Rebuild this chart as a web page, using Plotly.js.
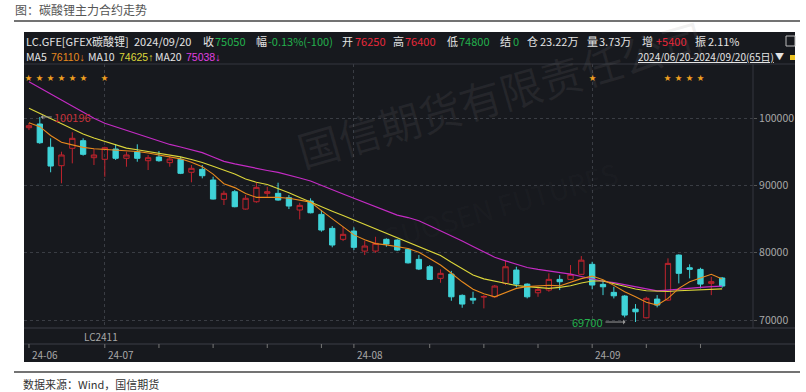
<!DOCTYPE html>
<html>
<head>
<meta charset="utf-8">
<script src="https://cdn.plot.ly/plotly-3.0.1.min.js"></script>
<style>html,body{margin:0;padding:0;background:#fff;}#chart{width:806px;height:392px;}</style>
</head>
<body>
<div id="chart"></div>
<script>
// ---- data ----
const openP  = [98600,99150,95690,92950,95540,96670,94140,93900,95430,94050,95030,93690,94240,93400,93900,91970,92410,90820,87950,89080,86500,87590,88840,88840,88190,86360,87700,85710,83630,82000,83230,80250,80250,82000,81890,80510,79020,77920,76200,76830,73660,73220,73400,73450,75450,77430,75340,74050,74450,76040,76040,76790,78280,75300,74110,73560,71620,70330,73110,72960,79660,77770,77530,75450,76250];
const highP  = [99300,100196,97020,95030,97920,97020,95430,95770,96180,95030,96130,94540,95130,94350,94290,93050,93050,91310,89230,89330,88590,90420,89820,90420,88590,87440,88100,86360,83970,83870,83780,81790,82380,82150,82000,80650,79660,78170,77530,77300,73810,74200,73700,75200,78900,77920,75450,74940,76940,76680,78170,79510,78660,75940,74940,73700,72370,73450,73700,79170,79760,78280,77770,76430,76400];
const lowP   = [98250,96200,91970,90330,93300,94440,93050,91310,93800,92800,93540,92310,93540,92800,91700,90480,91070,87920,87100,86760,86430,87440,88330,87740,86500,84970,85860,83130,80810,81740,80400,79660,80000,80900,80250,78400,77430,75940,75540,72860,71820,72370,71730,73360,75200,74850,73210,73450,74200,74450,75940,76680,74560,73700,73210,70390,69700,70240,71880,72820,75450,76190,74700,73700,74800];
const closeP = [98900,96370,92900,94540,97020,94640,94540,95630,94050,94540,94050,94140,93690,93950,91820,92560,91460,87990,88840,86850,88100,89730,89080,87840,86950,87050,85950,83380,81150,82740,80810,81000,81400,81300,80400,78500,77580,76040,76940,73450,72370,72960,73500,75050,77920,75340,73450,74550,76040,75690,76790,78900,75200,74940,73600,70730,71220,73220,72220,78420,76940,77530,75340,75700,75050];
const ma5  = [99350,98760,97450,96450,96050,95680,95460,95360,95290,95180,95060,94830,94560,94310,93970,93460,92810,91690,90280,89690,88830,88240,88240,88240,88100,87840,87530,86260,85080,83870,82660,81930,81360,81170,80880,80630,80090,79100,78190,76960,75680,74570,73890,73450,74050,74700,74970,75120,75170,75070,75600,76150,76530,76000,75150,74200,73450,72650,72220,73220,74700,75690,76250,76800,76110];
const ma10 = [101490,100720,99940,99120,98310,97660,97060,96550,96060,95560,95310,95070,94840,94610,94260,93860,93420,92860,92300,91710,90980,90480,90160,89600,88940,88230,87520,86840,86190,85540,84880,84230,83570,82890,82200,81530,80860,80230,79580,78580,77580,76700,76120,75770,75370,75120,74970,74800,74700,74850,75100,75500,75800,75800,75400,75000,74600,74350,74250,74250,74350,74400,74450,74500,74625];
const ma20 = [105450,104550,103630,102730,101820,100910,100000,99260,98730,98190,97650,97120,96580,96110,95730,95340,94890,94250,93600,93210,92850,92530,92240,91950,91570,91120,90670,90060,89410,88750,88100,87450,86800,86140,85600,85240,84770,84010,83280,82550,81740,80940,80140,79340,78800,78300,77810,77520,77300,77090,76830,76470,76100,75760,75550,75230,74880,74600,74320,74440,74600,74740,74860,74970,75038];
const monthTickIdx  = [0, 7, 30, 52];
const monthTickText = ['24-06', '24-07', '24-08', '24-09'];
const minorTickIdx  = [12, 17, 22, 27, 37, 42, 47, 57, 62];
const yTicks = [70000, 80000, 90000, 100000];
const starIdx = [0, 1, 2, 3, 4, 5, 7, 52, 59, 60, 61, 62];

// ---- geometry helpers ----
const W = 806, H = 392;
const PL = 24, PR = 753, PT = 64, PB = 328;
const px = x => (x - PL) / (PR - PL);
const py = y => (PB - y) / (PB - PT);
const FONT = '"Noto Sans CJK SC", "Noto Sans", sans-serif';
const NUMFONT = '"Liberation Sans", "Noto Sans CJK SC", sans-serif';
const WHITE = '#e4e4e4', GREEN = '#23b14d', RED = '#e8283a';
const C_UP = '#c0232d', C_DN = '#3fd3d8';
const C_MA5 = '#e88a1e', C_MA10 = '#dcd63a', C_MA20 = '#c42bc4';
const xIdx = closeP.map((_, i) => i);

const traces = [
  {type: 'candlestick', x: xIdx, open: openP, high: highP, low: lowP, close: closeP,
   increasing: {line: {color: C_UP, width: 1}, fillcolor: 'rgba(0,0,0,0)'},
   decreasing: {line: {color: C_DN, width: 1}, fillcolor: C_DN},
   whiskerwidth: 0, hoverinfo: 'skip', showlegend: false},
  {type: 'scatter', mode: 'lines', x: xIdx, y: ma20, line: {color: C_MA20, width: 1.2}, hoverinfo: 'skip', showlegend: false},
  {type: 'scatter', mode: 'lines', x: xIdx, y: ma10, line: {color: C_MA10, width: 1.1}, hoverinfo: 'skip', showlegend: false},
  {type: 'scatter', mode: 'lines', x: xIdx, y: ma5, line: {color: C_MA5, width: 1.1}, hoverinfo: 'skip', showlegend: false}
];

const ann = [];
function txt(x, y, text, color, size, family) {
  ann.push({xref: 'paper', yref: 'paper', x: px(x), y: py(y), text: text,
    showarrow: false, xanchor: 'left', yanchor: 'middle', borderpad: 0,
    font: {family: family || FONT, size: size || 11, color: color || WHITE}});
}
// watermark (drawn first, underneath the other texts)
ann.push({xref: 'paper', yref: 'paper', x: px(500), y: py(92), xanchor: 'center', yanchor: 'middle',
  text: '国信期货有限责任公司', showarrow: false, textangle: -16,
  font: {family: FONT, size: 42, color: 'rgba(135,135,135,0.12)'}});
ann.push({xref: 'paper', yref: 'paper', x: px(500), y: py(205), xanchor: 'center', yanchor: 'middle',
  text: 'GUOSEN FUTURES', showarrow: false, textangle: -16,
  font: {family: FONT, size: 28, color: 'rgba(150,150,150,0.05)'}});
// title & footer
txt(14, 10, '图：碳酸锂主力合约走势', '#555', 12);
txt(22, 384, '数据来源：Wind，国信期货', '#333', 11);
// header row 1
const row1 = [
  [25, 'LC.GFE[GFEX碳酸锂]', WHITE], [133, '2024/09/20', WHITE],
  [202, '收', WHITE], [214, '75050', GREEN],
  [255, '幅', WHITE], [267, '-0.13%(-100)', GREEN],
  [341, '开', WHITE], [354, '76250', RED],
  [392, '高', WHITE], [404, '76400', RED],
  [446, '低', WHITE], [458, '74800', GREEN],
  [499, '结', WHITE], [512, '0', GREEN],
  [526, '仓', WHITE], [539, '23.22万', WHITE],
  [586, '量', WHITE], [598, '3.73万', WHITE],
  [641, '增', WHITE], [655, '+5400', RED],
  [694, '振', WHITE], [707, '2.11%', WHITE]
];
row1.forEach(r => txt(r[0], 41, r[1], r[2], 11));
// header row 2
const row2 = [
  [25, 'MA5', WHITE, FONT], [50, '76110↓', C_MA5, NUMFONT],
  [87, 'MA10', WHITE, FONT], [118, '74625↑', C_MA10, NUMFONT],
  [154, 'MA20', WHITE, FONT], [185, '75038↓', '#e040e0', NUMFONT]
];
row2.forEach(r => txt(r[0], 57, r[1], r[2], 10.5, r[3]));
txt(637, 57, '<u>2024/06/20-2024/09/20(65日)</u>', WHITE, 10);
txt(774, 57, '▼', WHITE, 9);
// stars
starIdx.forEach(i => ann.push({xref: 'x', yref: 'paper', x: i, y: py(70), text: '★', showarrow: false,
  font: {family: FONT, size: 7, color: '#f0a020'}}));
// bottom band texts
txt(83, 336, 'LC2411', '#a8a8a8', 10);
monthTickIdx.forEach((i, k) => ann.push({xref: 'x', yref: 'paper', x: i, y: py(354), xanchor: 'left', yanchor: 'middle',
  xshift: 1, text: monthTickText[k], showarrow: false, font: {family: FONT, size: 10, color: '#a8a8a8'}}));
// extreme labels
const iMax = highP.indexOf(Math.max(...highP));
const iMin = lowP.indexOf(Math.min(...lowP));
ann.push({xref: 'x', yref: 'y', x: iMax, y: highP[iMax], text: String(highP[iMax]), showarrow: true,
  ax: 12, ay: 0, xanchor: 'left', arrowcolor: '#999', arrowwidth: 1, arrowhead: 1, arrowsize: 0.8, standoff: 1,
  font: {family: FONT, size: 11, color: '#c8323a'}});
ann.push({xref: 'x', yref: 'y', x: iMin, y: lowP[iMin], text: String(lowP[iMin]), showarrow: true,
  ax: -30, ay: 0, xanchor: 'right', arrowcolor: '#999', arrowwidth: 1, arrowhead: 1, arrowsize: 0.8, standoff: 10,
  font: {family: FONT, size: 11, color: GREEN}});

// shapes
const LINE = '#34373e';
const shapes = [
  {type: 'rect', xref: 'paper', yref: 'paper', x0: px(24), x1: px(795), y0: py(32), y1: py(362),
   fillcolor: '#17191e', line: {width: 0}, layer: 'below'},
  {type: 'line', xref: 'paper', yref: 'paper', x0: px(14), x1: px(800), y0: py(21), y1: py(21), line: {color: '#444', width: 1.5}},
  {type: 'line', xref: 'paper', yref: 'paper', x0: px(14), x1: px(800), y0: py(372), y1: py(372), line: {color: '#444', width: 1.5}},
  {type: 'line', xref: 'paper', yref: 'paper', x0: px(24), x1: px(795), y0: py(64), y1: py(64), line: {color: LINE, width: 1}},
  {type: 'line', xref: 'paper', yref: 'paper', x0: px(24), x1: px(795), y0: py(328), y1: py(328), line: {color: '#3c3f46', width: 1}},
  {type: 'line', xref: 'paper', yref: 'paper', x0: px(24), x1: px(795), y0: py(344), y1: py(344), line: {color: '#3c3f46', width: 1}},
  {type: 'line', xref: 'paper', yref: 'paper', x0: px(753), x1: px(753), y0: py(64), y1: py(328), line: {color: LINE, width: 1}},
  {type: 'rect', xref: 'paper', yref: 'paper', x0: px(786), x1: px(795), y0: py(36), y1: py(46), line: {color: '#bbb', width: 1}},
  {type: 'rect', xref: 'paper', yref: 'paper', x0: px(790), x1: px(795), y0: py(55), y1: py(60), fillcolor: '#e8c020', line: {width: 0}}
];
monthTickIdx.concat(minorTickIdx).forEach(i => shapes.push({type: 'line', xref: 'x', yref: 'paper',
  x0: i, x1: i, y0: py(344), y1: py(348), line: {color: '#777', width: 1}}));

const yLo = 70000 - (PB - 320) * 30000 / 201.7;
const yHi = 100000 + (118.3 - PT) * 30000 / 201.7;

const layout = {
  width: W, height: H,
  margin: {l: PL, r: W - PR, t: PT, b: H - PB, pad: 0},
  paper_bgcolor: '#ffffff', plot_bgcolor: 'rgba(0,0,0,0)',
  showlegend: false, dragmode: false, hovermode: false,
  xaxis: {range: [-0.46, 66.85], tickvals: [7, 30, 52], showticklabels: false, ticks: '',
    showgrid: true, gridcolor: '#3a3d44', griddash: 'dot', gridwidth: 1, zeroline: false, showline: false,
    rangeslider: {visible: false}, fixedrange: true},
  yaxis: {range: [yLo, yHi], side: 'right', tickvals: yTicks, ticktext: yTicks.map(String),
    ticks: 'outside', ticklen: 3, tickcolor: '#555', showgrid: true, gridcolor: '#3a3d44', griddash: 'dot',
    zeroline: false, showline: false, tickfont: {family: FONT, size: 10.5, color: '#a8a8a8'}, fixedrange: true},
  shapes: shapes,
  annotations: ann
};
Plotly.newPlot('chart', traces, layout, {displayModeBar: false, staticPlot: true});
</script>
</body>
</html>
